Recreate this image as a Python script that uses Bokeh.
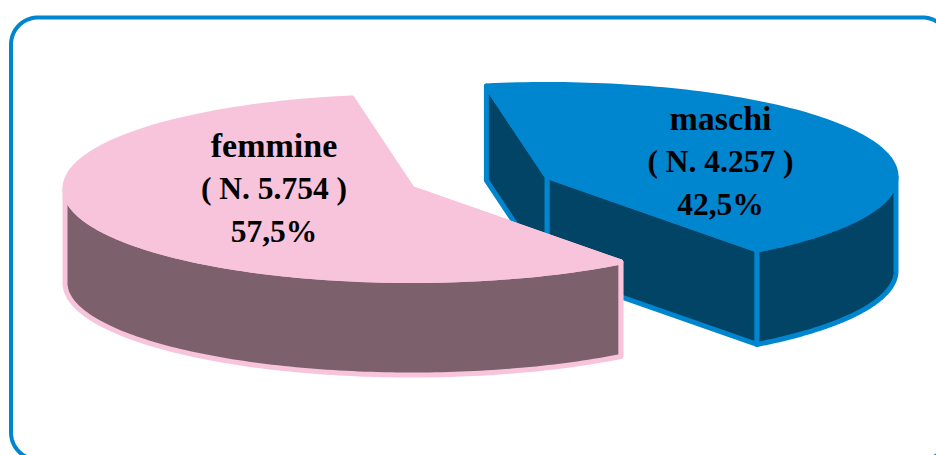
import numpy as np
from bokeh.plotting import figure
from bokeh.models import Range1d
from bokeh.core.properties import value
from bokeh.embed import file_html
from bokeh.resources import INLINE

# --- data
labels = ["femmine", "maschi"]
counts = ["5.754", "4.257"]
shares = [57.5, 42.5]
share_labels = ["57,5%", "42,5%"]

# --- style / layout
PINK, ROSE = "#F7C4DB", "#7C606B"
BLUE, NAVY = "#0085CF", "#014465"
FRAME = "#0085CF"
B, DEPTH = 92.0, 94.5
START = 100.0
radii = {"femmine": 347.0, "maschi": 349.0}
centres = {"femmine": (411.5, 188.0), "maschi": (546.5, 176.0)}
text_xy = {"femmine": (273.5, 145.0), "maschi": (720.0, 118.0)}
LINE_GAP = 43.0
FONT = "Liberation Serif"
NAME_SIZE = "34px"
NUM_SIZE = "31.5px"
STROKE = 5

sweep = [s / sum(shares) * 360 for s in shares]
a0 = START
a1 = a0 + sweep[0]
a2 = a1 + sweep[1]

p = figure(width=936, height=455, output_backend="svg", toolbar_location=None,
           x_range=Range1d(0, 936), y_range=Range1d(455, 0),
           min_border=0, outline_line_color=None, background_fill_color="white",
           border_fill_color="white")
p.axis.visible = False
p.grid.visible = False


def arc(c, a, t0, t1, dz=0.0, n=120):
    t = np.radians(np.linspace(t0, t1, n))
    return c[0] + a * np.cos(t), c[1] - B * np.sin(t) + dz


def frame(x0, y0, x1, y1, r):
    xs, ys = [], []
    for cx, cy, s in [(x1 - r, y0 + r, 0), (x0 + r, y0 + r, 90),
                      (x0 + r, y1 - r, 180), (x1 - r, y1 - r, 270)]:
        t = np.radians(np.linspace(s, s + 90, 24))
        xs += list(cx + r * np.cos(t))
        ys += list(cy - r * np.sin(t))
    return xs + xs[:1], ys + ys[:1]


fx, fy = frame(10.5, 17, 949, 459, 27)
p.line(fx, fy, line_color=FRAME, line_width=4)


def wall(xs, ys, fill, edge):
    p.patch(xs, ys, fill_color=fill, line_color=edge, line_width=STROKE, line_join="round")


def slice_3d(name, t0, t1, fill_top, fill_side):
    c, a = centres[name], radii[name]
    p0 = (c[0] + a * np.cos(np.radians(t0)), c[1] - B * np.sin(np.radians(t0)))
    p1 = (c[0] + a * np.cos(np.radians(t1)), c[1] - B * np.sin(np.radians(t1)))
    for q in (p0, p1):
        wall([q[0], c[0], c[0], q[0]], [q[1], c[1], c[1] + DEPTH, q[1] + DEPTH], fill_side, fill_top)
    if t0 < 360 and t1 > 360:
        lo, hi = t0, 360
    else:
        lo, hi = max(t0, 180), min(t1, 360)
    x_top, y_top = arc(c, a, lo, hi)
    x_bot, y_bot = arc(c, a, lo, hi, DEPTH)
    wall(np.r_[x_top, x_bot[::-1]], np.r_[y_top, y_bot[::-1]], fill_side, fill_top)
    xa, ya = arc(c, a, t0, t1)
    p.patch(np.r_[c[0], xa], np.r_[c[1], ya], fill_color=fill_top, line_color=fill_top,
            line_width=STROKE, line_join="round")


slice_3d("maschi", a1, a2, BLUE, NAVY)
slice_3d("femmine", a0, a1, PINK, ROSE)

for lab, cnt, sh in zip(labels, counts, share_labels):
    tx, ty = text_xy[lab]
    lines = [lab, f"( N. {cnt} )", sh]
    for i, line in enumerate(lines):
        p.text([tx], [ty + i * LINE_GAP], text=[line],
               text_font=value(FONT), text_font_style="bold",
               text_font_size=value(NAME_SIZE if i == 0 else NUM_SIZE),
               text_color="#000000", text_align="center", text_baseline="middle")

open("out.html", "w").write(file_html(p, INLINE))
